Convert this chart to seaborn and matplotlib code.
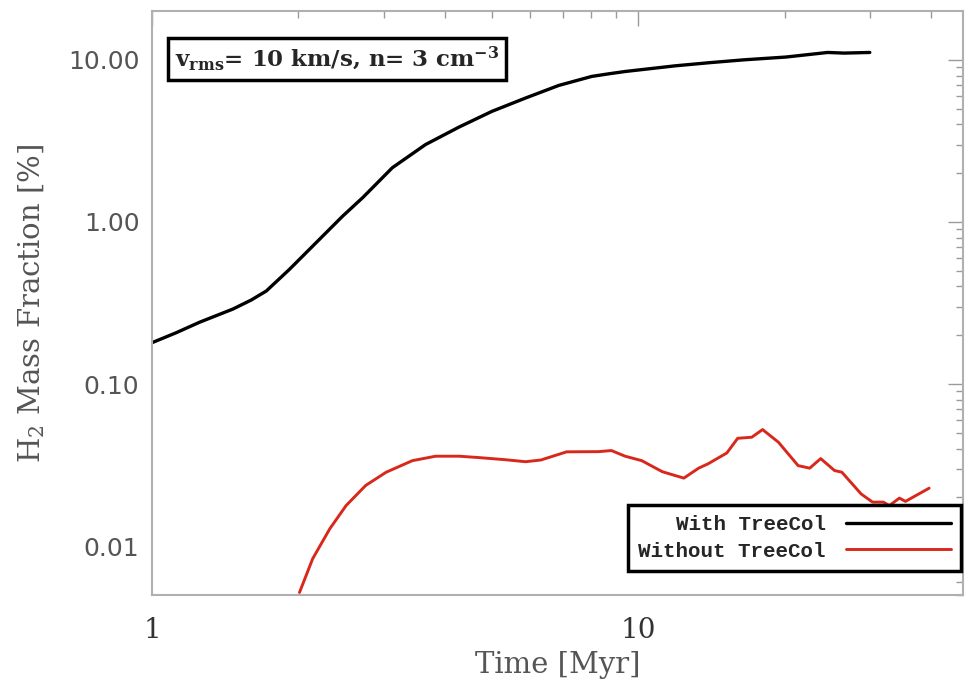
import numpy as np
import pandas as pd
import seaborn as sns
import matplotlib.pyplot as plt
from matplotlib.ticker import FixedLocator, FormatStrFormatter, NullFormatter

# with TreeCol (black)
t_with = [1.0, 1.12, 1.254, 1.466, 1.6, 1.718, 1.917, 2.175, 2.466, 2.71, 3.12, 3.65, 4.28,
          5.0, 5.86, 6.86, 8.02, 8.7, 9.39, 11.9, 14.0, 16.5, 20.1, 24.5, 26.5, 29.9]
h2_with = [0.18, 0.207, 0.241, 0.29, 0.33, 0.375, 0.51, 0.745, 1.086, 1.41, 2.16, 3.0, 3.85,
           4.81, 5.81, 6.95, 7.9, 8.2, 8.47, 9.18, 9.6, 10.0, 10.4, 11.1, 11.0, 11.1]

# without TreeCol (red)
t_without = [2.01, 2.14, 2.32, 2.506, 2.75, 3.03, 3.43, 3.83, 4.28, 4.70, 5.3, 5.86, 6.3,
             7.12, 8.28, 8.80, 9.39, 10.16, 11.2, 12.4, 13.3, 13.9, 15.2, 16.0, 17.1, 18.0,
             19.4, 21.3, 22.5, 23.7, 25.3, 26.2, 28.7, 30.3, 31.9, 32.8, 34.4, 35.4, 39.6]
h2_without = [0.00518, 0.00838, 0.0128, 0.0178, 0.0237, 0.0286, 0.0337, 0.0359, 0.0359, 0.0352,
              0.0342, 0.0332, 0.034, 0.0382, 0.0383, 0.0389, 0.0359, 0.0337, 0.0288, 0.0263,
              0.0303, 0.0322, 0.0376, 0.0463, 0.0470, 0.0524, 0.0438, 0.0314, 0.0303, 0.0347,
              0.0293, 0.0286, 0.0210, 0.0187, 0.0187, 0.0178, 0.0198, 0.0189, 0.0228]

y_ticks = [0.01, 0.1, 1.0, 10.0]
x_ticks = [1, 10]

sns.set_style("white")
plt.rcParams['mathtext.default'] = 'regular'

fig = plt.figure(figsize=(9.65, 6.79), dpi=100)
ax = fig.add_axes([0.1575, 0.1237, 0.8405, 0.8601])

sns.lineplot(x=t_with, y=h2_with, ax=ax, color='black', linewidth=2.4, label='With TreeCol')
sns.lineplot(x=t_without, y=h2_without, ax=ax, color='#d8281c', linewidth=2.1, label='Without TreeCol')

ax.set_xscale('log')
ax.set_yscale('log')
ax.set_xlim(1, 46.5)
ax.set_ylim(0.005, 20)

grey = '#9a9a9a'
for s in ax.spines.values():
    s.set_color('#b0b0b0')
    s.set_linewidth(1.5)

ax.xaxis.set_major_locator(FixedLocator(x_ticks))
ax.xaxis.set_major_formatter(FormatStrFormatter('%g'))
ax.xaxis.set_minor_locator(FixedLocator([2, 3, 4, 5, 6, 7, 8, 9, 20, 30, 40]))
ax.xaxis.set_minor_formatter(NullFormatter())
ax.yaxis.set_major_locator(FixedLocator(y_ticks))
ax.yaxis.set_major_formatter(FormatStrFormatter('%.2f'))
ax.yaxis.set_minor_locator(FixedLocator([m * d for d in [0.001, 0.01, 0.1, 1.0] for m in range(2, 10)]))
ax.yaxis.set_minor_formatter(NullFormatter())

ax.tick_params(which='both', direction='in', top=True, right=True, color=grey, width=1.0)
ax.tick_params(which='major', length=11)
ax.tick_params(which='minor', length=5)
ax.tick_params(axis='x', which='major', pad=16, labelsize=20, labelcolor='#333333')
ax.tick_params(axis='y', which='major', pad=9, labelsize=18, labelcolor='#555555')
for lab in ax.get_xticklabels():
    lab.set_family('DejaVu Serif')

ax.set_xlabel('Time [Myr]', family='DejaVu Serif', fontsize=21, color='#555555', labelpad=5)
ax.set_ylabel('H$_2$ Mass Fraction [%]', family='DejaVu Serif', fontsize=21, color='#555555', labelpad=15)

ax.text(0.0284, 0.9418, 'v$_{rms}$= 10 km/s, n= 3 cm$^{-3}$', transform=ax.transAxes,
        ha='left', va='top', fontsize=16.5, fontweight='bold', family='DejaVu Serif',
        bbox=dict(boxstyle='square,pad=0.3', fc='white', ec='black', lw=2.5))

leg = ax.legend(loc='lower right', bbox_to_anchor=(0.9975, 0.041), markerfirst=False,
                frameon=True, fancybox=False, handlelength=5.0, handletextpad=1.0,
                borderpad=0.5, labelspacing=0.35, borderaxespad=0,
                prop={'family': 'Liberation Mono', 'weight': 'bold', 'size': 15})
leg.get_frame().set_edgecolor('black')
leg.get_frame().set_linewidth(2.5)
leg.get_frame().set_alpha(1)

fig.savefig('out.png', dpi=100)
